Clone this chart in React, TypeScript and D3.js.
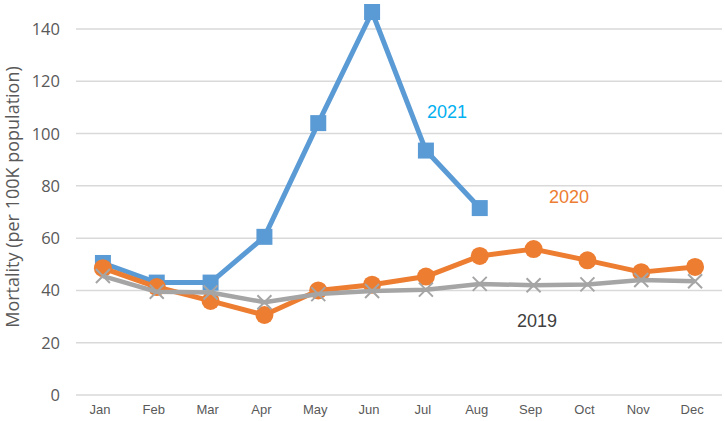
import React, { useEffect, useRef } from "react";
import * as d3 from "d3";

const months = ["Jan", "Feb", "Mar", "Apr", "May", "Jun", "Jul", "Aug", "Sep", "Oct", "Nov", "Dec"];
const y2021 = [50.5, 43, 43, 60.5, 104, 146.5, 93.5, 71.5];
const y2020 = [48.5, 41.3, 36, 30.6, 40, 42.2, 45.3, 53.2, 55.8, 51.5, 47, 49];
const y2019 = [45.5, 39.5, 39.2, 35.5, 38.6, 39.8, 40.3, 42.5, 42, 42.3, 44, 43.5];
const yTicks = [0, 20, 40, 60, 80, 100, 120, 140];

const W = 725, H = 421;
const left = 76, right = 722, top = 29, bottom = 395;

export default function App() {
  const ref = useRef<SVGSVGElement>(null);

  useEffect(() => {
    const svg = d3.select(ref.current);
    svg.selectAll("*").remove();

    const x = d3.scaleBand().domain(months).range([left, right]);
    const y = d3.scaleLinear().domain([0, 140]).range([bottom, top]);
    const cx = (i: number) => (x(months[i]) as number) + x.bandwidth() / 2;

    // gridlines
    svg.append("g")
      .selectAll("line")
      .data(yTicks)
      .join("line")
      .attr("x1", left)
      .attr("x2", right)
      .attr("y1", d => y(d))
      .attr("y2", d => y(d))
      .attr("stroke", "#d9d9d9")
      .attr("stroke-width", 1.5);

    svg.append("g")
      .selectAll("text")
      .data(yTicks)
      .join("text")
      .attr("x", 60)
      .attr("y", d => y(d))
      .attr("dy", "0.36em")
      .attr("text-anchor", "end")
      .attr("fill", "#595959")
      .style("font-family", "'Open Sans', sans-serif")
      .style("font-size", "16.5px")
      .text(d => d);

    svg.append("g")
      .selectAll("text")
      .data(months)
      .join("text")
      .attr("x", (d, i) => cx(i) - 3)
      .attr("y", 414)
      .attr("text-anchor", "middle")
      .attr("fill", "#595959")
      .style("font-size", "13px")
      .text(d => d);

    svg.append("text")
      .attr("transform", "rotate(-90)")
      .attr("x", -197)
      .attr("y", 19)
      .attr("text-anchor", "middle")
      .attr("fill", "#595959")
      .style("font-family", "'Open Sans', sans-serif")
      .style("font-size", "18px")
      .text("Mortality (per 100K population)");

    const line = d3.line<number>().x((d, i) => cx(i)).y(d => y(d));

    // 2021
    svg.append("path").datum(y2021).attr("d", line)
      .attr("fill", "none").attr("stroke", "#5b9bd5").attr("stroke-width", 5)
      .attr("stroke-linejoin", "round");
    svg.append("g").selectAll("rect").data(y2021).join("rect")
      .attr("x", (d, i) => cx(i) - 8)
      .attr("y", d => y(d) - 8)
      .attr("width", 16).attr("height", 16)
      .attr("fill", "#5b9bd5");

    // 2020
    svg.append("path").datum(y2020).attr("d", line)
      .attr("fill", "none").attr("stroke", "#ed7d31").attr("stroke-width", 5)
      .attr("stroke-linejoin", "round");
    svg.append("g").selectAll("circle").data(y2020).join("circle")
      .attr("cx", (d, i) => cx(i))
      .attr("cy", d => y(d))
      .attr("r", 9)
      .attr("fill", "#ed7d31");

    // 2019
    svg.append("path").datum(y2019).attr("d", line)
      .attr("fill", "none").attr("stroke", "#a5a5a5").attr("stroke-width", 4.5)
      .attr("stroke-linejoin", "round");
    const cross = svg.append("g").selectAll("g").data(y2019).join("g")
      .attr("transform", (d, i) => `translate(${cx(i)},${y(d)})`);
    cross.append("path")
      .attr("d", "M-7,-7L7,7M-7,7L7,-7")
      .attr("stroke", "#a5a5a5")
      .attr("stroke-width", 2);

    // series labels
    const labels = [
      { t: "2021", x: 427, y: 118, c: "#00b0f0" },
      { t: "2020", x: 549, y: 203, c: "#ed7d31" },
      { t: "2019", x: 517, y: 327, c: "#404040" },
    ];
    svg.append("g").selectAll("text").data(labels).join("text")
      .attr("x", d => d.x)
      .attr("y", d => d.y)
      .attr("fill", d => d.c)
      .style("font-size", "18px")
      .text(d => d.t);
  }, []);

  return (
    <svg
      ref={ref}
      width={W}
      height={H}
      style={{ position: "absolute", left: 0, top: 0, fontFamily: "'Liberation Sans', Arial, sans-serif", background: "#fff" }}
    />
  );
}
